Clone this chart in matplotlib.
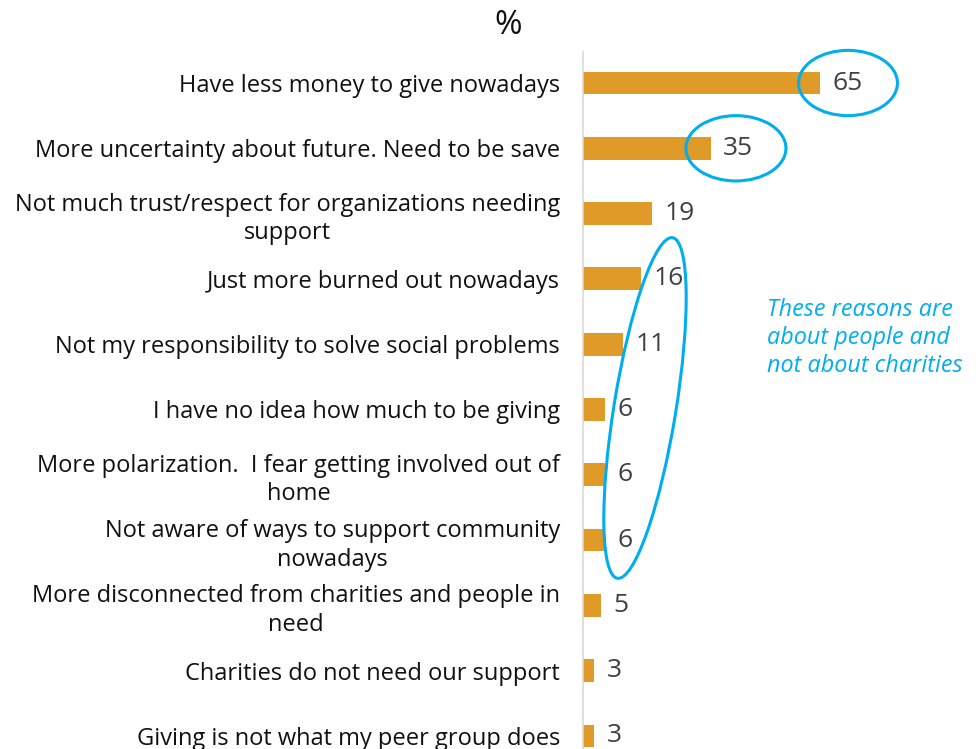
import matplotlib
matplotlib.use("Agg")
import matplotlib.pyplot as plt
from matplotlib.patches import Ellipse
from matplotlib.transforms import IdentityTransform

reasons = [
    "Have less money to give nowadays",
    "More uncertainty about future. Need to be save",
    "Not much trust/respect for organizations needing\nsupport",
    "Just more burned out nowadays",
    "Not my responsibility to solve social problems",
    "I have no idea how much to be giving",
    "More polarization.  I fear getting involved out of\nhome",
    "Not aware of ways to support community\nnowadays",
    "More disconnected from charities and people in\nneed",
    "Charities do not need our support",
    "Giving is not what my peer group does",
]
values = [65, 35, 19, 16, 11, 6, 6, 6, 5, 3, 3]

BAR = "#E09A28"
BLUE = "#00AEEF"
FONT = ["Open Sans", "DejaVu Sans"]

W, H = 980, 749
fig = plt.figure(figsize=(W / 100, H / 100), dpi=100)
ax_left, ax_right = 583, 948
ax_top, ax_bottom = 52, 749
ax = fig.add_axes([ax_left / W, 1 - ax_bottom / H, (ax_right - ax_left) / W, (ax_bottom - ax_top) / H])

y = list(range(len(values)))
ax.barh(y, values, height=0.35, color=BAR)
ax.set_xlim(0, 100)
ax.set_ylim(10.2, -0.475)

for yi, v in zip(y, values):
    ax.text(v + 3.4, yi, str(v), va="center", ha="left", fontsize=19,
            color="#404040", family=FONT)

ax.set_yticks(y)
ax.set_yticklabels(reasons, fontsize=17, family=FONT, color="#111111",
                   multialignment="center", linespacing=1.25)
ax.tick_params(axis="y", length=0, pad=16.5)
ax.set_xticks([])
for s in ["top", "right", "bottom"]:
    ax.spines[s].set_visible(False)
ax.spines["left"].set_color("#D9D9D9")
ax.spines["left"].set_linewidth(1.2)

# highlight circles around the top two values
ax.add_patch(Ellipse((72.6, 0.0), 27.1, 1.0, fill=False, ec=BLUE, lw=2.2, clip_on=False))
ax.add_patch(Ellipse((41.9, 1.0), 27.4, 1.0, fill=False, ec=BLUE, lw=2.2, clip_on=False))

# tilted ellipse in pixel space so the angle is not distorted by the data aspect
cx, cy = 645, 408
e = Ellipse((cx, H - cy), 62, 345, angle=-9.2, fill=False, ec=BLUE, lw=2.2,
            transform=IdentityTransform(), clip_on=False)
fig.add_artist(e)

fig.text(767 / W, 1 - 338 / H, "These reasons are\nabout people and\nnot about charities",
         ha="left", va="center", fontsize=16.8, style="italic", color=BLUE,
         family=FONT, linespacing=1.2)

fig.text(508 / W, 1 - 26 / H, "%", ha="center", va="center", fontsize=24,
         color="#111111", family=FONT)

fig.savefig("out.png", dpi=100)
